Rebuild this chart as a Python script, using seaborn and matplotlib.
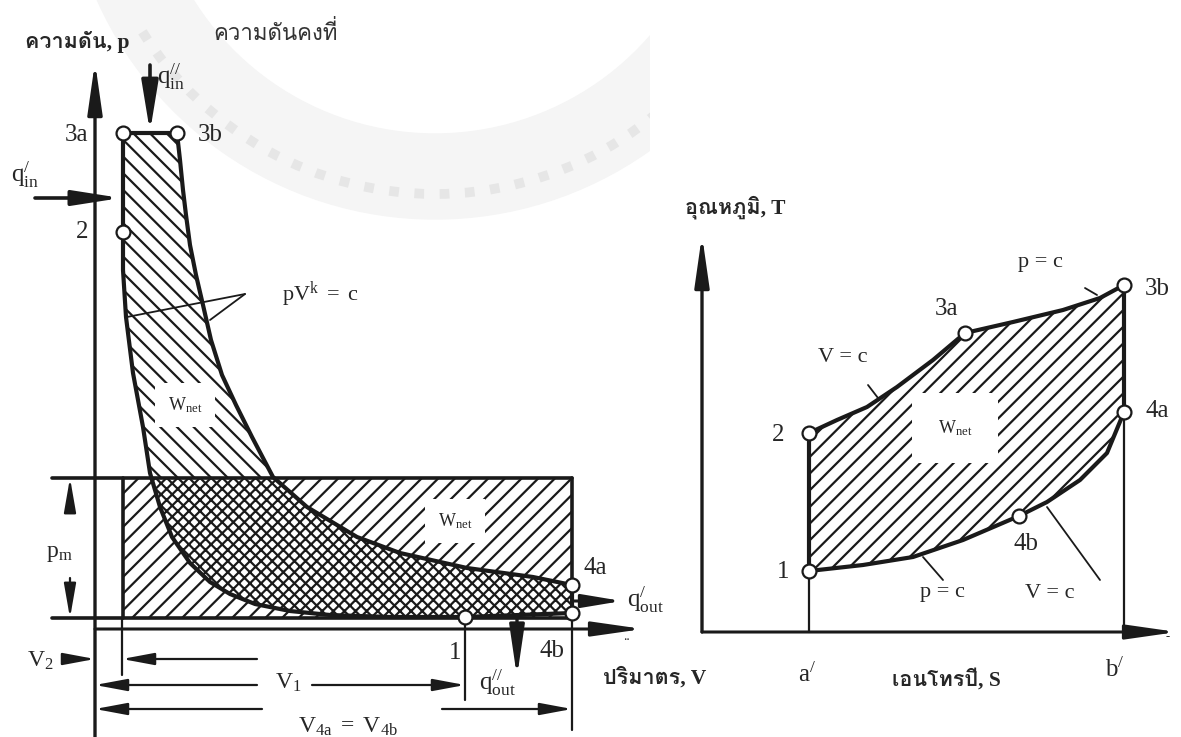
"""
Dual (mixed) air-standard cycle: p-V and T-s diagrams with mean effective pressure.
"""
import numpy as np
import matplotlib
matplotlib.use("Agg")
import matplotlib.pyplot as plt
from matplotlib import font_manager
from matplotlib.patches import Wedge, Arc, Polygon
import seaborn as sns

sns.set_theme(style="white")
plt.rcParams["font.family"] = ["Liberation Serif", "DejaVu Sans"]
plt.rcParams["mathtext.fontset"] = "custom"
plt.rcParams["mathtext.rm"] = "Liberation Serif"
plt.rcParams["mathtext.it"] = "Liberation Serif:italic"
plt.rcParams["hatch.linewidth"] = 1.6
plt.rcParams["hatch.color"] = "black"


def thai_family():
    # look for any installed family that actually carries Thai glyphs
    try:
        from fontTools.ttLib import TTFont
    except ImportError:
        return None
    for f in font_manager.fontManager.ttflist:
        try:
            tt = TTFont(f.fname, fontNumber=0, lazy=True)
            cmap = tt.getBestCmap() or {}
            if 0x0E04 in cmap and 0x0E19 in cmap:
                return f.name
        except Exception:
            continue
    return None


_th = thai_family()
THAI = ["Liberation Serif"] + ([_th] if _th else []) + ["DejaVu Sans"]

# ----------------------------------------------------------------------
# p-V diagram data (units = distance from origin)
# ----------------------------------------------------------------------
comp_V = [370, 295, 235, 195, 160, 135, 115, 95, 77, 65, 55, 48, 38, 31, 28, 28]
comp_p = [12, 12, 14, 18, 25, 35, 47, 66, 92, 122, 156, 202, 256, 312, 359, 397]
exp_V = [82, 85, 88, 91, 95, 101, 108, 116, 127, 141, 157, 178, 212, 262, 305, 372, 438, 477]
exp_p = [496, 469, 439, 414, 384, 354, 324, 289, 254, 224, 192, 152, 122, 92, 76, 61, 52, 44]
rej_V = [477, 477, 370]          # 4a -> 4b -> 1
rej_p = [44, 16, 12]
state_names = ["1", "2", "3a", "3b", "4a", "4b"]
state_V = [370, 28, 28, 82, 477, 477]
state_p = [12, 397, 496, 496, 44, 16]
mep_V = [28, 477]                # mean effective pressure rectangle
mep_p = [11, 151]

# ----------------------------------------------------------------------
# T-s diagram data
# ----------------------------------------------------------------------
ts_s_2_3a = [107, 135, 165, 195, 231, 263]
ts_T_2_3a = [199, 212, 225, 245, 272, 299]
ts_s_3a_3b = [263, 311, 361, 398, 422]
ts_T_3a_3b = [299, 310, 322, 334, 347]
ts_s_4a_4b = [422, 405, 378, 345, 317]
ts_T_4a_4b = [220, 179, 152, 130, 116]
ts_s_4b_1 = [317, 261, 211, 161, 107]
ts_T_4b_1 = [116, 92, 75, 67, 61]
ts_state_s = [107, 107, 263, 422, 422, 317]
ts_state_T = [61, 199, 299, 347, 220, 116]


def arrow(ax, tail, tip, lw=1.5, size=14, hl=1.5, hw=0.28):
    ax.annotate("", xy=tip, xytext=tail,
                arrowprops=dict(arrowstyle=f"-|>,head_length={hl},head_width={hw}",
                                color="k", lw=lw, mutation_scale=size,
                                shrinkA=0, shrinkB=0))


def line(ax, xs, ys, lw=3.0, z=3):
    sns.lineplot(x=xs, y=ys, sort=False, estimator=None, color="k",
                 lw=lw, ax=ax, zorder=z, solid_capstyle="round")


fig = plt.figure(figsize=(11.81, 7.37), dpi=100)
ax1 = fig.add_axes([0, 0, 650 / 1181, 1])
ax2 = fig.add_axes([650 / 1181, 0, 531 / 1181, 1])
ax1.set_xlim(-95, 555)
ax1.set_ylim(-108, 629)
ax2.set_xlim(-52, 479)
ax2.set_ylim(-105, 632)
for ax in (ax1, ax2):
    ax.set_axis_off()

# faint watermark seal behind the p-V diagram
ax1.add_patch(Wedge((340, 780), 370, 200, 340, width=85, color="#f5f5f5", zorder=0))
ax1.add_patch(Arc((340, 780), 2 * 345, 2 * 345, theta1=212, theta2=328,
                  color="#e6e6e6", lw=7, ls=(0, (1, 1.6)), zorder=0))

# ---------------- p-V -----------------
cyc_V = np.concatenate([comp_V, [state_V[2]], exp_V, rej_V[1:]])
cyc_p = np.concatenate([comp_p, [state_p[2]], exp_p, rej_p[1:]])
ax1.fill(cyc_V, cyc_p, facecolor="none", edgecolor="k", lw=0, hatch="\\\\", zorder=1)
rx = [mep_V[0], mep_V[1], mep_V[1], mep_V[0]]
ry = [mep_p[0], mep_p[0], mep_p[1], mep_p[1]]
rect = ax1.fill(rx, ry, facecolor="none", edgecolor="k", lw=0, hatch="//", zorder=1)[0]
# overlap of cycle and rectangle: white base with denser cross hatching
cross = Polygon(np.column_stack([cyc_V, cyc_p]), closed=True, facecolor="white",
                edgecolor="k", lw=0, hatch="xxx", zorder=1.5)
ax1.add_patch(cross)
cross.set_clip_path(rect)

line(ax1, comp_V, comp_p)
line(ax1, [state_V[1], state_V[2], state_V[3]], [state_p[1], state_p[2], state_p[3]])
line(ax1, exp_V, exp_p)
line(ax1, rej_V, rej_p)
pm_left = -43
line(ax1, [pm_left, mep_V[1]], [mep_p[1], mep_p[1]], lw=2.6)
line(ax1, [pm_left, mep_V[1]], [mep_p[0], mep_p[0]], lw=2.6)
line(ax1, [mep_V[1], mep_V[1]], [mep_p[0], mep_p[1]], lw=2.6)
line(ax1, [mep_V[0], mep_V[0]], [mep_p[0], mep_p[1]], lw=2.6)

sns.scatterplot(x=state_V, y=state_p, s=100, color="white", edgecolor="k",
                linewidth=1.6, zorder=6, ax=ax1)

# axes of the p-V diagram
arrow(ax1, (0, -108), (0, 567), lw=2.4, size=22, hl=1.4, hw=0.2)
arrow(ax1, (0, 0), (548, 0), lw=2.2, size=22, hl=1.4, hw=0.2)
ax1.text(532, -8, "..", fontsize=10, ha="center", va="center")

# extension lines for the volume dimensions
line(ax1, [27, 27], [11, -46], lw=1.6)
line(ax1, [370, 370], [12, -71], lw=1.6)
line(ax1, [477, 477], [16, -101], lw=1.6)

# heat arrows
arrow(ax1, (55, 564), (55, 497), lw=2.6, size=18, hl=1.7, hw=0.28)
arrow(ax1, (-60, 431), (26, 431), lw=2.6, size=18, hl=1.6, hw=0.25)
arrow(ax1, (478, 28), (527, 28), lw=2.2, size=16, hl=1.5, hw=0.25)
arrow(ax1, (422, 12), (422, -48), lw=2.4, size=18, hl=1.7, hw=0.25)

# mean effective pressure dimension
arrow(ax1, (-25, 116), (-25, 151), lw=1.6, size=13, hl=1.6, hw=0.28)
arrow(ax1, (-25, 51), (-25, 11), lw=1.6, size=13, hl=1.6, hw=0.28)
ax1.text(-36, 76, r"$\mathrm{p_m}$", fontsize=17, ha="center", va="center")

# volume dimensions
arrow(ax1, (-32, -30), (0, -30), lw=1.6, size=13)
arrow(ax1, (162, -30), (27, -30), lw=1.6, size=13)
arrow(ax1, (162, -56), (0, -56), lw=1.6, size=13)
arrow(ax1, (217, -56), (370, -56), lw=1.6, size=13)
arrow(ax1, (167, -80), (0, -80), lw=1.6, size=13)
arrow(ax1, (347, -80), (477, -80), lw=1.6, size=13)
ax1.text(-55, -32, r"$\mathrm{V_2}$", fontsize=17, ha="center", va="center")
ax1.text(193, -54, r"$\mathrm{V_1}$", fontsize=17, ha="center", va="center")
ax1.text(253, -98, r"$\mathrm{V_{4a}\ =\ V_{4b}}$", fontsize=17, ha="center", va="center")

# labels
ax1.text(-18, 587, "ความดัน, p", fontsize=15.5, fontweight="bold", family=THAI,
         ha="center", va="center")
ax1.text(118, 596, "ความดันคงที่", fontsize=16, color="#333333", family=THAI,
         ha="left", va="center")
ax1.text(560, -49, "ปริมาตร, V", fontsize=15.5, fontweight="bold", family=THAI,
         ha="center", va="center")
ax1.text(62, 552, r"$\mathrm{q^{//}_{in}}$", fontsize=18, ha="left", va="center")
ax1.text(-70, 454, r"$\mathrm{q^{/}_{in}}$", fontsize=18, ha="center", va="center")
ax1.text(532, 29, r"$\mathrm{q^{/}_{out}}$", fontsize=18, ha="left", va="center")
ax1.text(402, -54, r"$\mathrm{q^{//}_{out}}$", fontsize=18, ha="center", va="center")
pv_label_V = [360, -13, -19, 115, 500, 457]
pv_label_p = [-24, 397, 494, 494, 61, -22]
for name, lv, lp in zip(state_names, pv_label_V, pv_label_p):
    ax1.text(lv, lp, name, fontsize=18, ha="center", va="center")

ax1.text(225, 334, r"$\mathrm{pV^k\ =\ c}$", fontsize=16, ha="center", va="center")
line(ax1, [150, 32], [335, 312], lw=1.3)
line(ax1, [150, 115], [335, 309], lw=1.3)
ax1.text(90, 224, r"$\mathrm{W_{net}}$", fontsize=13, ha="center", va="center", zorder=4,
         bbox=dict(boxstyle="square,pad=0.7", fc="white", ec="none"))
ax1.text(360, 108, r"$\mathrm{W_{net}}$", fontsize=13, ha="center", va="center", zorder=4,
         bbox=dict(boxstyle="square,pad=0.7", fc="white", ec="none"))

# ---------------- T-s -----------------
ts_s = np.concatenate([ts_s_2_3a, ts_s_3a_3b[1:], ts_s_4a_4b, ts_s_4b_1[1:]])
ts_T = np.concatenate([ts_T_2_3a, ts_T_3a_3b[1:], ts_T_4a_4b, ts_T_4b_1[1:]])
ax2.fill(ts_s, ts_T, facecolor="none", edgecolor="k", lw=0, hatch="//", zorder=1)

line(ax2, ts_s_2_3a, ts_T_2_3a)
line(ax2, ts_s_3a_3b, ts_T_3a_3b)
line(ax2, [ts_state_s[3], ts_state_s[4]], [ts_state_T[3], ts_state_T[4]])
line(ax2, ts_s_4a_4b, ts_T_4a_4b)
line(ax2, ts_s_4b_1, ts_T_4b_1)
line(ax2, [ts_state_s[0], ts_state_s[1]], [ts_state_T[0], ts_state_T[1]])
line(ax2, [ts_state_s[0], ts_state_s[0]], [0, ts_state_T[0]], lw=1.6)
line(ax2, [ts_state_s[4], ts_state_s[4]], [0, ts_state_T[4]], lw=1.6)

sns.scatterplot(x=ts_state_s, y=ts_state_T, s=100, color="white", edgecolor="k",
                linewidth=1.6, zorder=6, ax=ax2)

arrow(ax2, (0, 0), (0, 397), lw=2.4, size=22, hl=1.4, hw=0.2)
arrow(ax2, (0, 0), (475, 0), lw=2.2, size=22, hl=1.4, hw=0.2)
ax2.text(466, -5, "-", fontsize=9, ha="center", va="center")

ts_label_s = [81, 76, 244, 455, 455, 324]
ts_label_T = [60, 197, 323, 343, 221, 88]
for name, ls_, lT in zip(state_names, ts_label_s, ts_label_T):
    ax2.text(ls_, lT, name, fontsize=18, ha="center", va="center")

ax2.text(141, 275, "V = c", fontsize=16, ha="center", va="center")
ax2.text(338, 370, "p = c", fontsize=16, ha="center", va="center")
ax2.text(240, 39, "p = c", fontsize=16, ha="center", va="center")
ax2.text(348, 39, "V = c", fontsize=16, ha="center", va="center")
line(ax2, [166, 176], [247, 234], lw=1.3)
line(ax2, [383, 395], [344, 337], lw=1.3)
line(ax2, [221, 241], [75, 52], lw=1.3)
line(ax2, [345, 398], [125, 52], lw=1.3)
ax2.text(253, 204, r"$\mathrm{W_{net}}$", fontsize=13, ha="center", va="center", zorder=4,
         bbox=dict(boxstyle="square,pad=1.4", fc="white", ec="none"))

ax2.text(33, 425, "อุณหภูมิ, T", fontsize=15.5, fontweight="bold", family=THAI,
         ha="center", va="center")
ax2.text(244, -48, "เอนโทรปี, S", fontsize=15.5, fontweight="bold", family=THAI,
         ha="center", va="center")
ax2.text(105, -43, r"$\mathrm{a^{/}}$", fontsize=18, ha="center", va="center")
ax2.text(413, -38, r"$\mathrm{b^{/}}$", fontsize=18, ha="center", va="center")

fig.savefig("out.png", dpi=100, facecolor="white")
